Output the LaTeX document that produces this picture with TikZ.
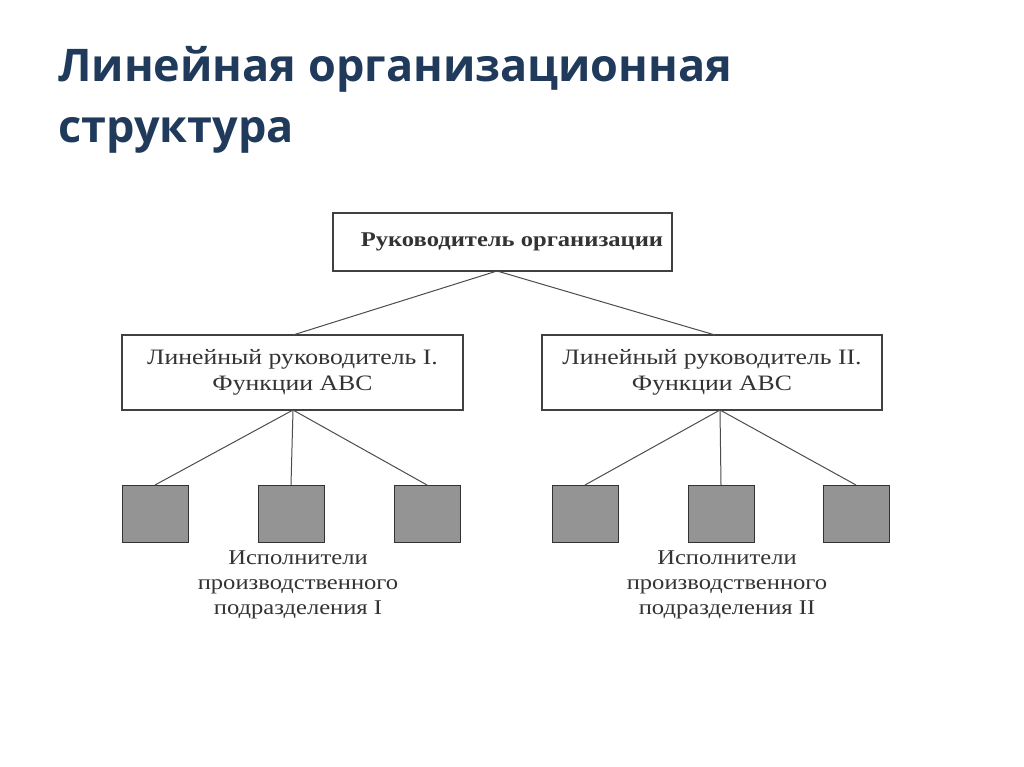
\documentclass[tikz,border=0pt]{standalone}
\usepackage{fontspec}
\setmainfont{Liberation Serif}
\newfontfamily\titlefont{Open Sans}
\definecolor{titleblue}{HTML}{1F3A5A}
\begin{document}
\begin{tikzpicture}[x=1pt,y=-1pt,
  box/.style={draw=black!75,line width=1.2pt},
  sq/.style={draw=black!80,fill=black!42,line width=1pt},
  ln/.style={black!70,line width=1pt},
  lbl/.style={font=\fontsize{22}{26}\selectfont,text=black!80,align=center,xscale=1.17}]
\useasboundingbox (0,0) rectangle (1024,767);
\node[anchor=west,text=titleblue,font=\titlefont\bfseries\fontsize{45}{61}\selectfont,align=left,inner sep=0pt] (title) at (58,100) {Линейная организационная\\структура};
\draw[box] (333,213) rectangle (672,271);
\node[lbl,font=\bfseries\fontsize{21}{24}\selectfont] (top) at (512,242) {Руководитель организации};
\draw[box] (122,335) rectangle (463,410);
\node[lbl] (l) at (292.5,372.5) {Линейный руководитель I.\\Функции ABC};
\draw[box] (542,335) rectangle (882,410);
\node[lbl] (r) at (712,372.5) {Линейный руководитель II.\\Функции ABC};
\coordinate (tb) at (497,271);
\coordinate (lt) at (293,335);
\coordinate (rt) at (715,335);
\coordinate (lb) at (293,410);
\coordinate (rb) at (720,410);
\draw[ln] (tb) -- (lt);
\draw[ln] (tb) -- (rt);
\foreach \n/\a in {l1/122,l2/258,l3/394,r1/552,r2/688,r3/823}{
  \draw[sq] (\a,485) rectangle ++(66,57);
  \coordinate (\n) at (\a+33,485);
}
\foreach \n in {l1,l2,l3} \draw[ln] (lb) -- (\n);
\foreach \n in {r1,r2,r3} \draw[ln] (rb) -- (\n);
\node[lbl,font=\fontsize{21}{25}\selectfont] (ll) at (298,585) {Исполнители\\производственного\\подразделения I};
\node[lbl,font=\fontsize{21}{25}\selectfont] (rl) at (727,585) {Исполнители\\производственного\\подразделения II};
\end{tikzpicture}
\end{document}
